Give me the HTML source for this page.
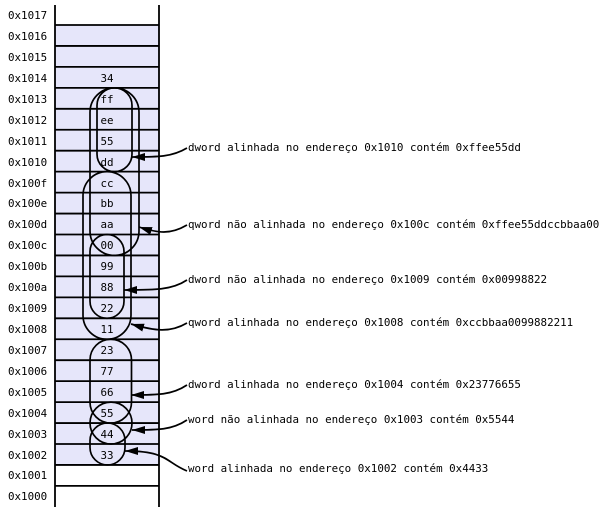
<!DOCTYPE html>
<html><head><meta charset="utf-8"><style>
body{margin:0;background:#fff;}
svg{display:block}
text{font-family:"DejaVu Sans Mono","Liberation Mono",monospace;font-size:10.85px;fill:#000}
</style></head><body>
<svg width="606" height="514" viewBox="0 0 606 514" xmlns="http://www.w3.org/2000/svg">
<defs>
<marker id="ah" markerUnits="userSpaceOnUse" markerWidth="14" markerHeight="10" refX="13" refY="5" orient="auto">
<path d="M0,1 L13,5 L0,9 Z" fill="#000"/>
</marker>
</defs>
<rect x="55" y="25" width="104" height="440" fill="#e6e6fa"/>
<g stroke="#000" stroke-width="1.8">
<line x1="55" y1="25" x2="159" y2="25"/><line x1="55" y1="45.95" x2="159" y2="45.95"/><line x1="55" y1="66.9" x2="159" y2="66.9"/><line x1="55" y1="87.85" x2="159" y2="87.85"/><line x1="55" y1="108.8" x2="159" y2="108.8"/><line x1="55" y1="129.75" x2="159" y2="129.75"/><line x1="55" y1="150.7" x2="159" y2="150.7"/><line x1="55" y1="171.65" x2="159" y2="171.65"/><line x1="55" y1="192.6" x2="159" y2="192.6"/><line x1="55" y1="213.55" x2="159" y2="213.55"/><line x1="55" y1="234.5" x2="159" y2="234.5"/><line x1="55" y1="255.45" x2="159" y2="255.45"/><line x1="55" y1="276.4" x2="159" y2="276.4"/><line x1="55" y1="297.35" x2="159" y2="297.35"/><line x1="55" y1="318.3" x2="159" y2="318.3"/><line x1="55" y1="339.25" x2="159" y2="339.25"/><line x1="55" y1="360.2" x2="159" y2="360.2"/><line x1="55" y1="381.15" x2="159" y2="381.15"/><line x1="55" y1="402.1" x2="159" y2="402.1"/><line x1="55" y1="423.05" x2="159" y2="423.05"/><line x1="55" y1="444" x2="159" y2="444"/><line x1="55" y1="464.95" x2="159" y2="464.95"/><line x1="55" y1="485.9" x2="159" y2="485.9"/>
<line x1="55" y1="5" x2="55" y2="507"/><line x1="159" y1="5" x2="159" y2="507"/>
</g>
<g text-anchor="start">
<text x="8" y="19">0x1017</text><text x="8" y="40">0x1016</text><text x="8" y="61">0x1015</text><text x="8" y="82">0x1014</text><text x="8" y="103">0x1013</text><text x="8" y="124">0x1012</text><text x="8" y="145">0x1011</text><text x="8" y="166">0x1010</text><text x="8" y="187">0x100f</text><text x="8" y="207">0x100e</text><text x="8" y="228">0x100d</text><text x="8" y="249">0x100c</text><text x="8" y="270">0x100b</text><text x="8" y="291">0x100a</text><text x="8" y="312">0x1009</text><text x="8" y="333">0x1008</text><text x="8" y="354">0x1007</text><text x="8" y="375">0x1006</text><text x="8" y="396">0x1005</text><text x="8" y="417">0x1004</text><text x="8" y="438">0x1003</text><text x="8" y="459">0x1002</text><text x="8" y="479">0x1001</text><text x="8" y="500">0x1000</text>
</g>
<g text-anchor="middle">
<text x="107" y="82">34</text><text x="107" y="103">ff</text><text x="107" y="124">ee</text><text x="107" y="145">55</text><text x="107" y="166">dd</text><text x="107" y="187">cc</text><text x="107" y="207">bb</text><text x="107" y="228">aa</text><text x="107" y="249">00</text><text x="107" y="270">99</text><text x="107" y="291">88</text><text x="107" y="312">22</text><text x="107" y="333">11</text><text x="107" y="354">23</text><text x="107" y="375">77</text><text x="107" y="396">66</text><text x="107" y="417">55</text><text x="107" y="438">44</text><text x="107" y="459">33</text>
</g>
<g fill="none" stroke="#000" stroke-width="1.7">
<rect x="97" y="87.85" width="35" height="83.8" rx="17.5"/>
<rect x="90" y="87.85" width="49" height="167.6" rx="24.5"/>
<rect x="90" y="234.5" width="34" height="83.8" rx="17"/>
<rect x="83" y="171.65" width="48" height="167.6" rx="24"/>
<rect x="90" y="339.25" width="41.5" height="83.8" rx="20.75"/>
<rect x="90" y="402.1" width="42" height="41.9" rx="21"/>
<rect x="90" y="423.05" width="35" height="41.9" rx="17.5"/>
<path d="M187,148 C172,157 158,157 132,157" marker-end="url(#ah)"/>
<path d="M187,225 C170,235 158,233 139,227" marker-end="url(#ah)"/>
<path d="M187,280 C172,290 155,290 124,290" marker-end="url(#ah)"/>
<path d="M187,323 C170,333 155,331 131,324" marker-end="url(#ah)"/>
<path d="M187,385 C172,395 158,395 131,395" marker-end="url(#ah)"/>
<path d="M187,420 C172,430 158,430 132,430" marker-end="url(#ah)"/>
<path d="M187,471 C165,462 168,451 125,451" marker-end="url(#ah)"/>
</g>
<g>
<text x="188" y="151">dword alinhada no endereço 0x1010 contém 0xffee55dd</text>
<text x="188" y="228">qword não alinhada no endereço 0x100c contém 0xffee55ddccbbaa00</text>
<text x="188" y="283">dword não alinhada no endereço 0x1009 contém 0x00998822</text>
<text x="188" y="326">qword alinhada no endereço 0x1008 contém 0xccbbaa0099882211</text>
<text x="188" y="388">dword alinhada no endereço 0x1004 contém 0x23776655</text>
<text x="188" y="423">word não alinhada no endereço 0x1003 contém 0x5544</text>
<text x="188" y="472">word alinhada no endereço 0x1002 contém 0x4433</text>
</g>
</svg>
</body></html>
